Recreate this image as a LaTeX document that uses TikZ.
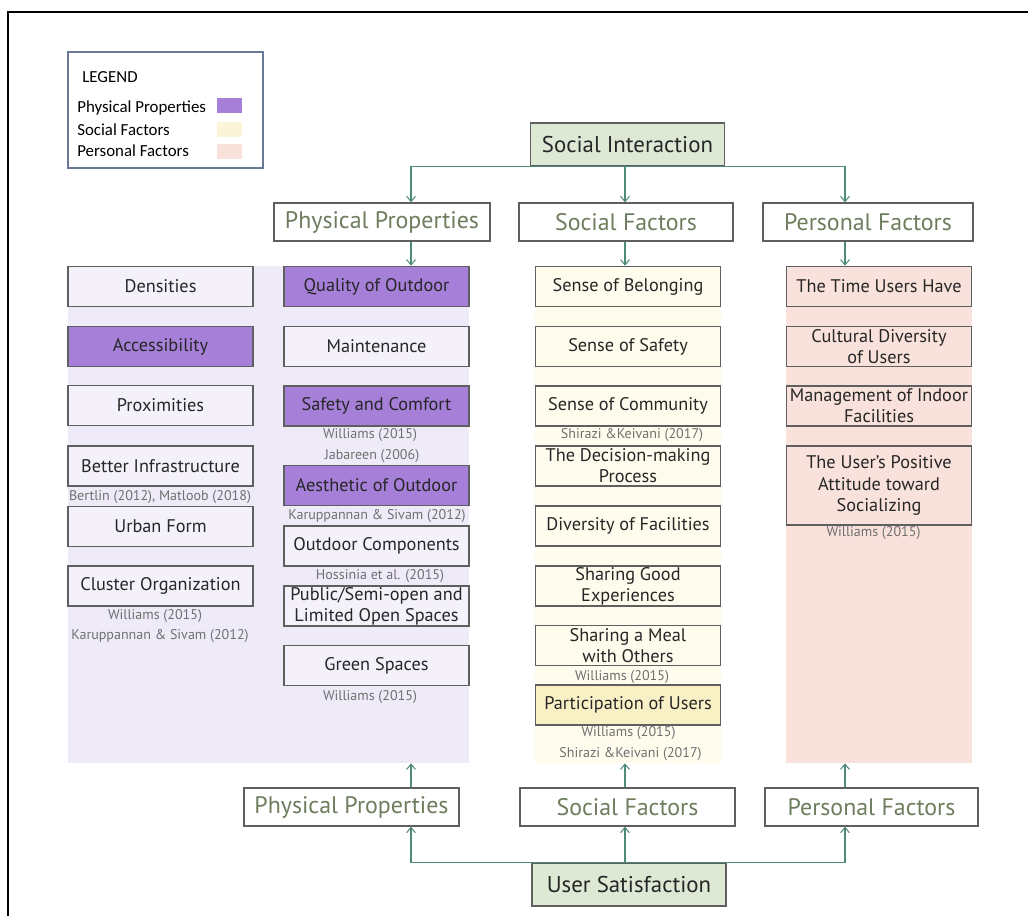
\documentclass[tikz,border=0pt]{standalone}
\usepackage{fontspec}
\setmainfont{PT Sans}
\newfontfamily\legendfont{Carlito}
\usetikzlibrary{arrows.meta}
\definecolor{purp}{HTML}{A680D8}
\definecolor{lavpanel}{HTML}{EFEAF8}
\definecolor{lavbox}{HTML}{F4F1FB}
\definecolor{creampanel}{HTML}{FFFCEE}
\definecolor{yelbox}{HTML}{FAF0C6}
\definecolor{pinkpanel}{HTML}{F9E2DC}
\definecolor{greenbox}{HTML}{DDE8D5}
\definecolor{boxgray}{HTML}{5F5F5F}
\definecolor{hdrtext}{HTML}{6E7D5E}
\definecolor{citegray}{HTML}{707070}
\definecolor{arrgreen}{HTML}{4E8C79}
\definecolor{legendline}{HTML}{6A7898}

\begin{document}
\begin{tikzpicture}[x=0.02cm, y=-0.02cm,
  box/.style={draw=boxgray, line width=0.7pt, minimum width=3.7cm, minimum height=0.8cm, align=center, inner sep=0pt, text=black!85, font=\fontsize{10.4}{12}\selectfont},
  hdr/.style={draw=boxgray, line width=0.7pt, fill=white, minimum height=0.76cm, inner sep=0pt, text=hdrtext, font=\fontsize{13.6}{15}\selectfont},
  topbox/.style={draw=boxgray, line width=0.7pt, fill=greenbox, minimum width=3.88cm, minimum height=0.86cm, inner sep=0pt, text=black!85, font=\fontsize{13}{15}\selectfont},
  cite/.style={text=citegray, inner sep=0pt, font=\fontsize{8}{9}\selectfont},
  panel/.style={draw=none, minimum height=9.94cm, inner sep=0pt},
  swatch/.style={minimum width=0.5cm, minimum height=0.3cm, inner sep=0pt},
  legtext/.style={anchor=west, inner sep=0pt, font=\legendfont\fontsize{9.6}{11}\selectfont},
  arr/.style={draw=arrgreen, line width=0.6pt, -{Straight Barb[length=3pt,width=5pt]}}]
\useasboundingbox (0,0) rectangle (1028,916);
\fill[white] (0,0) rectangle (1028,916);
\draw[line width=1.2pt] (8,916) -- (8,12) -- (1028,12);

% legend
\node[draw=legendline, line width=0.8pt, minimum width=3.9cm, minimum height=2.32cm] (legend) at (165.5,110) {};
\node[legtext] (legtitle) at (82,77) {LEGEND};
\node[legtext] (legP) at (77,108) {Physical Properties};
\node[legtext] (legS) at (77,130) {Social Factors};
\node[legtext] (legR) at (77,151) {Personal Factors};
\node[swatch, fill=purp] (swP) at (229.5,105.5) {};
\node[swatch, fill=yelbox!70!white] (swS) at (229.5,129.5) {};
\node[swatch, fill=pinkpanel] (swR) at (229.5,151.5) {};

% arrow columns
\coordinate (pa) at (411,0);
\coordinate (sa) at (625,0);
\coordinate (ra) at (845,0);

% top and bottom
\node[topbox] (si) at (627.5,144.5) {Social Interaction};
\node[topbox] (us) at (629,884.5) {User Satisfaction};
\node[hdr, minimum width=4.32cm] (tphys) at (382,222) {Physical Properties};
\node[hdr, minimum width=4.28cm] (tsoc) at (626,222) {Social Factors};
\node[hdr, minimum width=4.2cm] (tpers) at (868,222) {Personal Factors};
\node[hdr, minimum width=4.3cm] (bphys) at (351.5,807) {Physical Properties};
\node[hdr, minimum width=4.3cm] (bsoc) at (627.5,807) {Social Factors};
\node[hdr, minimum width=4.26cm] (bpers) at (871.5,807) {Personal Factors};

% panels
\node[panel, fill=lavpanel, minimum width=8.02cm] (pnlP) at (268.5,514.5) {};
\node[panel, fill=creampanel, minimum width=3.72cm] (pnlS) at (628,514.5) {};
\node[panel, fill=pinkpanel, minimum width=3.72cm] (pnlR) at (879,514.5) {};

% physical properties
\node[box, fill=lavbox] (dens) at (160.5,286.5) {Densities};
\node[box, fill=purp] (access) at (160.5,346.5) {Accessibility};
\node[box, fill=lavbox] (prox) at (160.5,405.5) {Proximities};
\node[box, fill=lavbox] (infra) at (160.5,466) {Better Infrastructure};
\node[cite] (c1) at (160,497) {Bertlin (2012), Matloob (2018)};
\node[box, fill=lavbox] (urban) at (160.5,526.5) {Urban Form};
\node[box, fill=lavbox] (cluster) at (160.5,586) {Cluster Organization};
\node[cite] (c2) at (155,616) {Williams (2015)};
\node[cite] (c3) at (160,636) {Karuppannan \& Sivam (2012)};

\node[box, fill=purp] (qual) at (376.5,286.5) {Quality of Outdoor};
\node[box, fill=lavbox] (maint) at (376.5,346.5) {Maintenance};
\node[box, fill=purp] (safe) at (376.5,406) {Safety and Comfort};
\node[cite] (c4) at (370,435) {Williams (2015)};
\node[cite] (c5) at (372,456) {Jabareen (2006)};
\node[box, fill=purp] (aesth) at (376.5,485.5) {Aesthetic of Outdoor};
\node[cite] (c6) at (377,516) {Karuppannan \& Sivam (2012)};
\node[box, fill=lavbox] (outc) at (376.5,546) {Outdoor Components};
\node[cite] (c7) at (380,576) {Hossinia et al. (2015)};
\node[box, fill=lavbox] (public) at (376.5,606) {Public/Semi-open and\\Limited Open Spaces};
\node[box, fill=lavbox] (green) at (376.5,665.5) {Green Spaces};
\node[cite] (c8) at (370,697) {Williams (2015)};

% social factors
\node[box] (belong) at (628,286.5) {Sense of Belonging};
\node[box] (ssafe) at (628,346.5) {Sense of Safety};
\node[box] (comm) at (628,406) {Sense of Community};
\node[cite] (c9) at (632,435) {Shirazi \&Keivani (2017)};
\node[box] (decis) at (628,466) {The Decision-making\\Process};
\node[box] (divers) at (628,526) {Diversity of Facilities};
\node[box] (sharexp) at (628,586) {Sharing Good\\Experiences};
\node[box] (meal) at (628,645.5) {Sharing a Meal\\with Others};
\node[cite] (c10) at (622,677) {Williams (2015)};
\node[box, fill=yelbox] (partic) at (628,705) {Participation of Users};
\node[cite] (c11) at (628.5,733) {Williams (2015)};
\node[cite] (c12) at (630.5,754) {Shirazi \&Keivani (2017)};

% personal factors
\node[box] (time) at (879,286.5) {The Time Users Have};
\node[box] (cult) at (879,346.5) {Cultural Diversity\\of Users};
\node[box] (manag) at (879,406) {Management of Indoor\\Facilities};
\node[box, minimum height=1.58cm] (attit) at (879,485.5) {The User's Positive\\Attitude toward\\Socializing};
\node[cite] (c13) at (873.5,533) {Williams (2015)};

% connectors
\draw[arr] (si.south) -| (tphys.north -| pa);
\draw[arr] (si.south -| sa) -- (tsoc.north -| sa);
\draw[arr] (si.south) -| (tpers.north -| ra);
\draw[arr] (tphys.south -| pa) -- (pnlP.north -| pa);
\draw[arr] (tsoc.south -| sa) -- (pnlS.north -| sa);
\draw[arr] (tpers.south -| ra) -- (pnlR.north -| ra);
\draw[arr] (bphys.north -| pa) -- (pnlP.south -| pa);
\draw[arr] (bsoc.north -| sa) -- (pnlS.south -| sa);
\draw[arr] (bpers.north -| ra) -- (pnlR.south -| ra);
\draw[arr] (us.north) -| (bphys.south -| pa);
\draw[arr] (us.north -| sa) -- (bsoc.south -| sa);
\draw[arr] (us.north) -| (bpers.south -| ra);
\end{tikzpicture}
\end{document}
